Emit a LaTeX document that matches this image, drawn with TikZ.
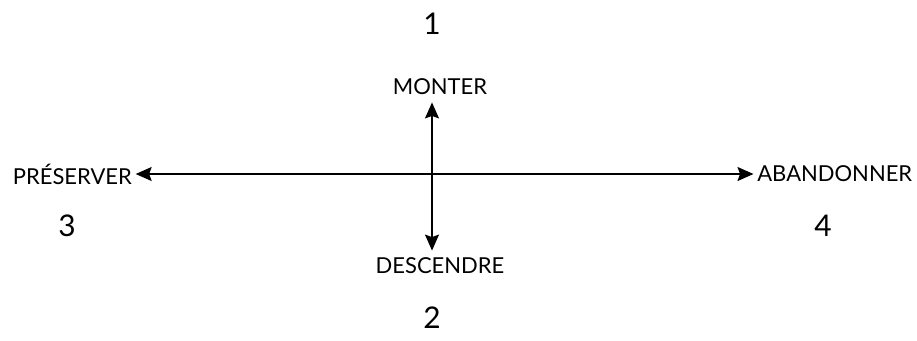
\documentclass[tikz,border=0pt]{standalone}
\usepackage{fontspec}
\setmainfont{Lato}
\usetikzlibrary{arrows.meta}

\tikzset{
  pole/.style={inner xsep=2pt, inner ysep=4pt, font=\fontsize{12.5}{14}\selectfont},
  quadnum/.style={inner sep=0pt, font=\fontsize{17}{19}\selectfont},
  axis/.style={line width=0.8pt, {Stealth[length=3.2mm,width=2.8mm,inset=0.5mm]}-{Stealth[length=3.2mm,width=2.8mm,inset=0.5mm]}}
}

\begin{document}
\begin{tikzpicture}
\useasboundingbox (0,0) rectangle (18.34,-6.8);
% quadrant numbers
\node[quadnum] (n1) at (8.64,-0.48) {1};
\node[quadnum] (n2) at (8.64,-6.36) {2};
\node[quadnum] (n3) at (1.34,-4.52) {3};
\node[quadnum] (n4) at (16.46,-4.52) {4};
% poles
\node[pole] (monter) at (8.80,-1.74) {MONTER};
\node[pole] (descendre) at (8.80,-5.32) {DESCENDRE};
\node[pole, anchor=west] (preserver) at (0.18,-3.48) {PRÉSERVER};
\node[pole, anchor=east] (abandonner) at (18.32,-3.48) {ABANDONNER};
% axes
\draw[axis] (preserver.east) -- (abandonner.west);
\draw[axis] (monter.south -| n1) -- (descendre.north -| n1);
\end{tikzpicture}
\end{document}
